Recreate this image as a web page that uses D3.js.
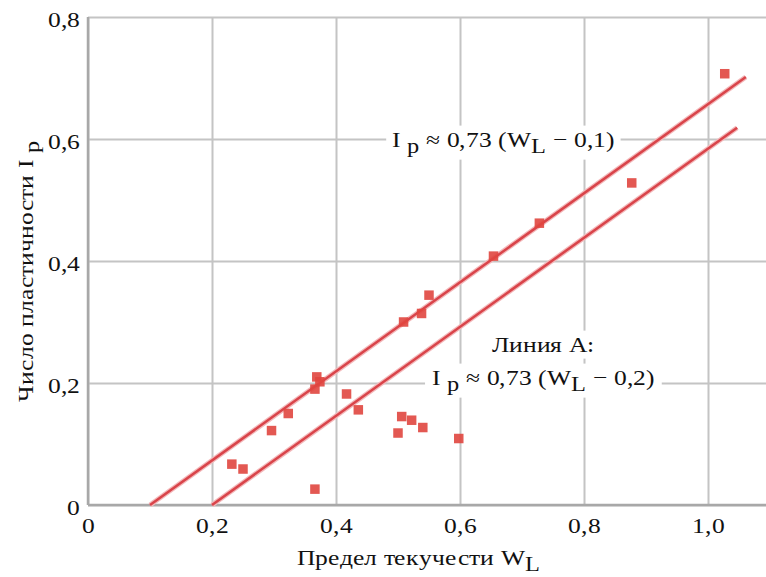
<!DOCTYPE html>
<html>
<head>
<meta charset="utf-8">
<script src="https://cdn.jsdelivr.net/npm/d3@7"></script>
<style>
  @font-face { font-family: "LocalSerif"; src: local("Liberation Serif"), local("LiberationSerif"), local("LiberationSerif-Regular"), local("Tinos"), local("DejaVu Serif"), local("DejaVuSerif"), local("Noto Serif"), local("NotoSerif-Regular"), local("FreeSerif"), local("Times New Roman"); }
  html, body { margin: 0; padding: 0; background: #fff; }
  svg { display: block; }
</style>
</head>
<body>
<svg id="chart" width="766" height="577"></svg>
<script>
// ---- data ----
const liquidLimit = [0.232, 0.250, 0.296, 0.323, 0.369, 0.374, 0.366, 0.366, 0.417, 0.436,
                     0.550, 0.538, 0.509, 0.506, 0.522, 0.500, 0.540, 0.598, 0.654, 0.728, 0.877, 1.027];
const plasticityIndex = [0.067, 0.059, 0.122, 0.150, 0.210, 0.202, 0.190, 0.026, 0.182, 0.156,
                         0.344, 0.314, 0.300, 0.145, 0.139, 0.118, 0.127, 0.109, 0.408, 0.462, 0.528, 0.707];
const xTickValues = [0, 0.2, 0.4, 0.6, 0.8, 1.0];
const xTickLabels = ["0", "0,2", "0,4", "0,6", "0,8", "1,0"];
const yTickValues = [0, 0.2, 0.4, 0.6, 0.8];
const yTickLabels = ["0", "0,2", "0,4", "0,6", "0,8"];
const lineSlope = 0.73;
const lineOffsets = [0.1, 0.2];      // Ip = 0.73 (WL - offset)
const lineEndX = [1.061, 1.047];     // right end of each drawn line

// ---- layout ----
const svg = d3.select("#chart");
const pLeft = 88, pTop = 17, pBottom = 505, pRight = 766;
const x = d3.scaleLinear().domain([0, 1.1]).range([pLeft, pLeft + 1.1 * 620]);
const y = d3.scaleLinear().domain([0, 0.8]).range([pBottom, pTop]);

const gridColor = "#c4c4c4";
const axisColor = "#a8a8a8";
const red = "#d9444a";
const fontFam = "LocalSerif, 'Liberation Serif', 'Times New Roman', Times, 'DejaVu Serif', serif";
const stretch = 1.16;   // text in the reference is horizontally widened

// grid + tick labels through d3 axes
const xAxis = d3.axisBottom(x).tickValues(xTickValues)
  .tickFormat((d, i) => xTickLabels[i]).tickSize(-(pBottom - pTop)).tickPadding(12);
const gx = svg.append("g").attr("transform", `translate(0,${pBottom})`).call(xAxis)
  .attr("font-family", fontFam);
gx.select(".domain").remove();
gx.selectAll("line").attr("stroke", gridColor).attr("stroke-width", 2);
gx.selectAll("text").attr("font-size", 22).attr("fill", "#111")
  .attr("transform", `scale(${stretch},1)`);

const yAxis = d3.axisLeft(y).tickValues(yTickValues)
  .tickFormat((d, i) => yTickLabels[i]).tickSize(-(pRight - pLeft)).tickPadding(8);
const gy = svg.append("g").attr("transform", `translate(${pLeft},0)`).call(yAxis)
  .attr("font-family", fontFam);
gy.select(".domain").remove();
gy.selectAll("line").attr("stroke", gridColor).attr("stroke-width", 2);
gy.selectAll("text").attr("font-size", 22).attr("fill", "#111")
  .attr("x", 0).attr("dy", "0.42em")
  .attr("transform", `translate(-8,0) scale(${stretch},1)`);

// axis lines
svg.append("line").attr("x1", pLeft).attr("x2", pLeft).attr("y1", pTop).attr("y2", pBottom)
  .attr("stroke", axisColor).attr("stroke-width", 2.5);
svg.append("line").attr("x1", pLeft).attr("x2", pRight).attr("y1", pBottom).attr("y2", pBottom)
  .attr("stroke", axisColor).attr("stroke-width", 2.5);

// fit lines
lineOffsets.forEach((off, i) => {
  const pts = [[off, 0], [lineEndX[i], lineSlope * (lineEndX[i] - off)]];
  svg.append("path")
    .attr("d", d3.line().x(d => x(d[0])).y(d => y(d[1]))(pts))
    .attr("stroke", "#f3b9bb").attr("stroke-width", 5).attr("fill", "none");
  svg.append("path")
    .attr("d", d3.line().x(d => x(d[0])).y(d => y(d[1]))(pts))
    .attr("stroke", red).attr("stroke-width", 2.5).attr("fill", "none");
});

// points
const ms = 9.5;
svg.append("g").selectAll("rect").data(liquidLimit).join("rect")
  .attr("x", (d) => x(d) - ms / 2)
  .attr("y", (d, i) => y(plasticityIndex[i]) - ms / 2)
  .attr("width", ms).attr("height", ms)
  .attr("fill", "#e0463f").attr("opacity", 0.9);

// helper: text group placed at (xPos,yPos) and widened
function label(xPos, yPos, rot) {
  return svg.append("g")
    .attr("transform", `translate(${xPos},${yPos})${rot ? ` rotate(${rot})` : ""} scale(${stretch},1)`)
    .attr("font-family", fontFam).attr("fill", "#111");
}
function formula(g, parts, size, anchor) {
  const t = g.append("text").attr("x", 0).attr("y", 0)
    .attr("font-size", size).attr("text-anchor", anchor || "start");
  parts.forEach(p => {
    if (p.sub) {
      t.append("tspan").attr("dy", 6).attr("font-size", size - 1).text(p.t);
    } else if (p.after) {
      t.append("tspan").attr("dy", -6).text(p.t);
    } else {
      t.append("tspan").text(p.t);
    }
  });
  return t;
}
function boxBehind(g, node, pad) {
  const b = node.node().getBBox();
  g.insert("rect", ":first-child").attr("x", b.x - pad[0]).attr("y", b.y - pad[1])
    .attr("width", b.width + 2 * pad[0]).attr("height", b.height + 2 * pad[1]).attr("fill", "#fff");
}

// annotation 1
const a1 = label(392, 147);
const t1 = formula(a1, [{t: "I "}, {t: "p", sub: true}, {t: " ≈ 0,73 (W", after: true},
  {t: "L", sub: true}, {t: " − 0,1)", after: true}], 22);
boxBehind(a1, t1, [5, 2]);

// annotation 2
const a2a = label(543, 352);
const t2a = a2a.append("text").attr("font-size", 22).attr("text-anchor", "middle").text("Линия А:");
boxBehind(a2a, t2a, [5, 2]);
const a2b = label(432, 385);
const t2b = formula(a2b, [{t: "I "}, {t: "p", sub: true}, {t: " ≈ 0,73 (W", after: true},
  {t: "L", sub: true}, {t: " − 0,2)", after: true}], 22);
boxBehind(a2b, t2b, [6, 2]);

// axis titles
const xtG = label(297, 565);
const xt = xtG.append("text").attr("font-size", 22);
xt.append("tspan").text("Предел текучести W");
xt.append("tspan").attr("dy", 6).attr("font-size", 21).text("L");

const ytG = label(33, 402, -90);
const yt = ytG.append("text").attr("font-size", 22);
yt.append("tspan").text("Число пластичности I ");
yt.append("tspan").attr("dy", 6).attr("font-size", 21).text("p");
</script>
</body>
</html>
